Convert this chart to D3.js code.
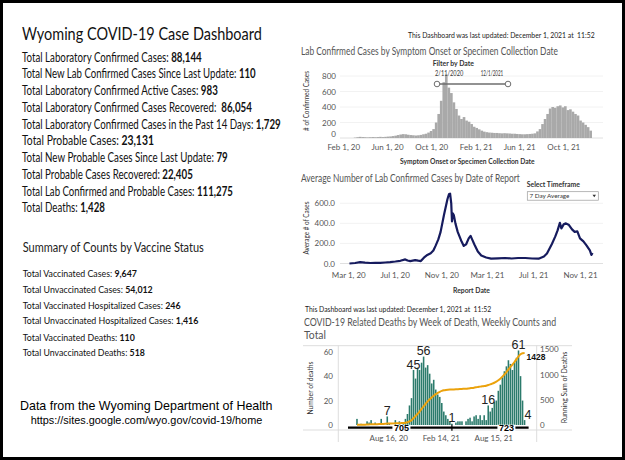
<!DOCTYPE html>
<html>
<head>
<meta charset="utf-8">
<script src="https://cdn.jsdelivr.net/npm/d3@7"></script>
<style>
  body { margin: 0; background: #fff; }
  svg { display: block; }
  text { font-family: Lato, "Open Sans", sans-serif; white-space: pre; }
</style>
</head>
<body>
<svg width="625" height="460"></svg>
<script>
// ---- data ----
const summaryLabels = [
  'Total Laboratory Confirmed Cases: ',
  'Total New Lab Confirmed Cases Since Last Update: ',
  'Total Laboratory Confirmed Active Cases: ',
  'Total Laboratory Confirmed Cases Recovered:  ',
  'Total Laboratory Confirmed Cases in the Past 14 Days: ',
  'Total Probable Cases: ',
  'Total New Probable Cases Since Last Update: ',
  'Total Probable Cases Recovered: ',
  'Total Lab Confirmed and Probable Cases: ',
  'Total Deaths: '
];
const summaryValues = [88144, 110, 983, 86054, 1729, 23131, 79, 22405, 111275, 1428];

const vaccineLabels = [
  'Total Vaccinated Cases: ',
  'Total Unvaccinated Cases: ',
  'Total Vaccinated Hospitalized Cases: ',
  'Total Unvaccinated Hospitalized Cases: ',
  'Total Vaccinated Deaths: ',
  'Total Unvaccinated Deaths: '
];
const vaccineValues = [9647, 54012, 246, 1416, 110, 518];

// lab confirmed cases by symptom onset, one value per week from 2020-03-01
const onsetStart = '2020-03-01';
const onsetCounts = [
  5, 10, 15, 12, 10, 8, 10, 12, 10, 12, 15, 12, 15,
  18, 20, 25, 30, 38, 45, 50, 48,
  42, 38, 35, 32, 35, 40, 48, 55,
  70, 90, 115,
  200, 310, 480, 720, 820, 650, 580, 460, 375, 290, 245, 270, 225, 210, 180, 145, 130, 112, 95, 82,
  75, 70, 68, 65, 65, 62, 60, 62, 60,
  58, 55, 55, 52, 50, 48, 48, 50, 52, 55, 60,
  85, 115, 180, 245, 310, 380, 400, 390, 410, 420, 395, 410, 360, 370, 340, 310, 290, 225, 200, 170, 140, 95
];
const onsetTicks = ['2020-02-01', '2020-06-01', '2020-10-01', '2021-02-01', '2021-06-01', '2021-10-01'];
const onsetYTicks = [0, 200, 400, 600, 800];

// 7 day average by report date
const avgDates = ['2020-03-04','2020-03-19','2020-04-01','2020-04-14','2020-04-28','2020-05-11','2020-05-24','2020-06-06','2020-06-19','2020-07-03',
  '2020-07-16','2020-07-29','2020-08-04','2020-08-11','2020-08-24','2020-09-01','2020-09-08','2020-09-16','2020-09-25','2020-10-04',
  '2020-10-11','2020-10-17','2020-10-24','2020-10-30','2020-11-08','2020-11-17','2020-11-21','2020-11-24','2020-11-27','2020-11-29',
  '2020-12-01','2020-12-04','2020-12-08','2020-12-14','2020-12-23','2020-12-30','2021-01-05','2021-01-12','2021-01-17','2021-01-21',
  '2021-01-27','2021-02-05','2021-02-14','2021-02-27','2021-03-12','2021-03-30','2021-04-17','2021-05-05','2021-05-22','2021-06-10',
  '2021-06-28','2021-07-15','2021-07-29','2021-08-06','2021-08-19','2021-08-28','2021-09-03','2021-09-09','2021-09-13','2021-09-19',
  '2021-09-25','2021-10-03','2021-10-11','2021-10-18','2021-10-25','2021-11-01','2021-11-10','2021-11-18','2021-11-27','2021-12-01',
  '2021-12-04'];
const avgValues = [0, 5, 14, 8, 5, 6, 7, 10, 14, 20,
  27, 41, 30, 24, 34, 28, 24, 58, 85, 103,
  130, 178, 240, 315, 485, 640, 690, 697, 600, 420,
  500, 480, 400, 315, 230, 175, 190, 250, 275, 240,
  190, 120, 80, 60, 48, 52, 55, 50, 55, 55,
  50, 48, 70, 100, 195, 270, 330, 405, 350, 390,
  400, 383, 340, 315, 320, 250, 220, 180, 130, 85,
  105];
const avgTicks = ['2020-03-01', '2020-07-01', '2020-11-01', '2021-03-01', '2021-07-01', '2021-11-01'];
const avgYTicks = [0, 200, 400, 600];

// deaths per week of death, weeks from 2020-04-26
const deathStart = '2020-04-26';
const deathCounts = [
  5, 0, 1, 0, 0, 3, 2, 4, 0, 2, 0, 0, 5, 0, 0, 7, 1, 0, 0, 4, 0, 3, 0, 2,
  5, 9, 16, 22, 45, 38, 47, 45, 51, 56, 47, 49, 42, 34, 37, 29, 25, 23, 18, 11, 8, 5, 3, 1,
  0, 2, 3, 3, 3, 0, 3, 5, 6, 3, 7, 8, 5, 8, 4, 8, 4, 16, 11, 14,
  19, 20, 28, 33, 39, 44, 48, 53, 50, 45, 51, 55, 61, 40, 20, 4
];
const deathLabelWeeks = [15, 28, 33, 47, 65, 80, 83];
const deathSplitWeek = 47; // last week counted in the first total
const deathTicks = ['2020-08-16', '2021-02-14', '2021-08-15'];
const deathYTicks = [0, 20, 40, 60];
const runningYTicks = [0, 500, 1000, 1500];

// ---- drawing ----
const svg = d3.select('svg');
const parse = d3.timeParse('%Y-%m-%d');
const fmt = d3.format(',');

// squeeze a text to the width it has in the picture
function fitText(parent, x, y, width, parts, size, fill, family) {
  const t = parent.append('text')
    .attr('font-size', size)
    .attr('fill', fill || '#111');
  if (family) t.style('font-family', family);
  parts.forEach(p => t.append('tspan').text(p.text).attr('font-weight', p.bold ? 700 : 400));
  const w = t.node().getComputedTextLength();
  t.attr('transform', `translate(${x},${y}) scale(${width / w},1)`);
  return t;
}

function vLabel(x, y, len, str, size) {
  const t = svg.append('text')
    .attr('font-size', size).attr('fill', '#333')
    .attr('text-anchor', 'middle').attr('dy', '0.35em')
    .text(str);
  const w = t.node().getComputedTextLength();
  t.attr('transform', `translate(${x},${y}) rotate(-90) scale(${len / w},1)`);
}

function styleAxis(g, size) {
  g.select('.domain').remove();
  g.selectAll('text').attr('font-size', size).attr('fill', '#555')
    .style('font-family', 'Lato, "Open Sans", sans-serif');
}

// outer frame
svg.append('rect').attr('x', 1.5).attr('y', 1.5).attr('width', 622).attr('height', 457)
  .attr('fill', '#fff').attr('stroke', '#000').attr('stroke-width', 3);

// ---- left panel ----
fitText(svg, 22, 40, 240, [{ text: 'Wyoming COVID-19 Case Dashboard' }], 16.5, '#111');

const lineWidths = [180, 234, 196, 230, 259, 132, 206, 171, 211, 83];
summaryLabels.forEach((label, i) => {
  fitText(svg, 22, 61.7 + i * 16.73, lineWidths[i],
    [{ text: label }, { text: fmt(summaryValues[i]), bold: true }], 12.5, '#111');
});

fitText(svg, 22.7, 251.7, 181.3, [{ text: 'Summary of Counts by Vaccine Status' }], 13, '#222');

const vaccineWidths = [114.3, 130.3, 158, 175.7, 112.3, 122.3];
const vaccineBase = [276.7, 292.7, 308.7, 324.3, 340.5, 356];
vaccineLabels.forEach((label, i) => {
  fitText(svg, 22.7, vaccineBase[i], vaccineWidths[i],
    [{ text: label }, { text: fmt(vaccineValues[i]), bold: true }], 10, '#111');
});

fitText(svg, 20, 410, 252.7, [{ text: 'Data from the Wyoming Department of Health' }], 13, '#000', '"Liberation Sans", Arial, sans-serif');
fitText(svg, 30.7, 424.3, 231.7, [{ text: 'https://sites.google.com/wyo.gov/covid-19/home' }], 10.5, '#000', '"Liberation Sans", Arial, sans-serif');

// ---- chart 1: lab confirmed cases by symptom onset ----
fitText(svg, 408, 38, 187, [{ text: 'This Dashboard was last updated: December 1, 2021 at  11:52' }], 7.5, '#222');
fitText(svg, 301, 54.5, 257, [{ text: 'Lab Confirmed Cases by Symptom Onset or Specimen Collection Date' }], 10.5, '#555');

const x1 = d3.scaleTime().domain([parse('2020-02-01'), parse('2021-10-01')]).range([343.3, 563.3]);
const y1 = d3.scaleLinear().domain([0, 800]).range([138, 76]);

svg.append('g').selectAll('line').data(onsetYTicks).join('line')
  .attr('x1', 340).attr('x2', 603)
  .attr('y1', d => y1(d)).attr('y2', d => y1(d))
  .attr('stroke', d => d === 0 ? '#d8d8d8' : '#efefef').attr('stroke-width', 0.8);

const onset0 = parse(onsetStart);
svg.append('g').selectAll('rect').data(onsetCounts).join('rect')
  .attr('x', (d, k) => x1(d3.timeWeek.offset(onset0, k)))
  .attr('width', (d, k) => x1(d3.timeWeek.offset(onset0, k + 1)) - x1(d3.timeWeek.offset(onset0, k)) + 0.1)
  .attr('y', d => y1(d))
  .attr('height', d => y1(0) - y1(d))
  .attr('fill', '#a9a9a9');

const ax1 = svg.append('g').attr('transform', 'translate(340,0)')
  .call(d3.axisLeft(y1).tickValues(onsetYTicks).tickSize(0).tickPadding(4));
styleAxis(ax1, 8);
// the zero label sits a little above the baseline, clear of the date labels
ax1.selectAll('.tick text').filter(d => d === 0).attr('dy', '-0.25em');
const bx1 = svg.append('g').attr('transform', `translate(0,${y1(0) + 1.5})`)
  .call(d3.axisBottom(x1).tickValues(onsetTicks.map(parse)).tickFormat(d3.timeFormat('%b %-d, %y')).tickSize(0).tickPadding(5));
styleAxis(bx1, 8);
vLabel(306, 101, 60, '# of Confirmed Cases', 7.5);
fitText(svg, 400, 164, 135, [{ text: 'Symptom Onset or Specimen Collection Date', bold: true }], 7.5, '#333');

// date filter slider
fitText(svg, 432.7, 65.5, 41.3, [{ text: 'Filter by Date', bold: true }], 7.5, '#333');
fitText(svg, 435, 76, 28.3, [{ text: '2/11/2020' }], 7.5, '#333');
fitText(svg, 480.7, 76, 22.6, [{ text: '12/1/2021' }], 7.5, '#333');
svg.append('line').attr('x1', 437).attr('x2', 508).attr('y1', 84).attr('y2', 84)
  .attr('stroke', '#6e6e6e').attr('stroke-width', 1.6);
svg.selectAll('circle.handle').data([437, 508]).join('circle')
  .attr('class', 'handle').attr('cx', d => d).attr('cy', 84).attr('r', 2.8)
  .attr('fill', '#fff').attr('stroke', '#6e6e6e').attr('stroke-width', 1);

// ---- chart 2: average number by date of report ----
fitText(svg, 301, 182.3, 219, [{ text: 'Average Number of Lab Confirmed Cases by Date of Report' }], 10.5, '#555');
fitText(svg, 526.7, 187, 53.3, [{ text: 'Select Timeframe', bold: true }], 7.5, '#333');
svg.append('rect').attr('x', 527.3).attr('y', 191.7).attr('width', 71).attr('height', 8.5)
  .attr('fill', '#fff').attr('stroke', '#9a9a9a').attr('stroke-width', 0.7);
fitText(svg, 529.5, 198.3, 40, [{ text: '7 Day Average' }], 6.5, '#333');
svg.append('path').attr('d', 'M592.5,194.8 L596,194.8 L594.25,197.2 Z').attr('fill', '#333');

const x2 = d3.scaleTime().domain([parse('2020-03-01'), parse('2021-11-01')]).range([348.3, 580]);
const y2 = d3.scaleLinear().domain([0, 600]).range([263.5, 203.3]);

svg.append('g').selectAll('line').data(avgYTicks).join('line')
  .attr('x1', 340).attr('x2', 603)
  .attr('y1', d => y2(d)).attr('y2', d => y2(d))
  .attr('stroke', d => d === 0 ? '#d8d8d8' : '#efefef').attr('stroke-width', 0.8);

const avgLine = d3.line()
  .x((d, i) => x2(parse(avgDates[i])))
  .y(d => y2(d));
svg.append('path').datum(avgValues)
  .attr('d', avgLine)
  .attr('fill', 'none')
  .attr('stroke', '#161b5e')
  .attr('stroke-width', 2.2)
  .attr('stroke-linejoin', 'round');

const ax2 = svg.append('g').attr('transform', 'translate(339,0)')
  .call(d3.axisLeft(y2).tickValues(avgYTicks).tickFormat(d3.format('.1f')).tickSize(0).tickPadding(4));
styleAxis(ax2, 8);
const bx2 = svg.append('g').attr('transform', `translate(0,${y2(0) + 4})`)
  .call(d3.axisBottom(x2).tickValues(avgTicks.map(parse)).tickFormat(d3.timeFormat('%b %-d, %y')).tickSize(0).tickPadding(5));
styleAxis(bx2, 8);
vLabel(306.7, 228, 53, 'Average # of Cases', 7.5);
fitText(svg, 453, 292.5, 37, [{ text: 'Report Date', bold: true }], 7.5, '#333');

// ---- chart 3: deaths by week ----
fitText(svg, 305, 312, 186.7, [{ text: 'This Dashboard was last updated: December 1, 2021 at  11:52' }], 7.5, '#222');
fitText(svg, 304, 326, 252.7, [{ text: 'COVID-19 Related Deaths by Week of Death, Weekly Counts and' }], 10.5, '#555');
fitText(svg, 304, 339, 22, [{ text: 'Total' }], 10.5, '#555');

const x3 = d3.scaleTime().domain([parse('2020-08-16'), parse('2021-08-15')]).range([388.3, 493.3]);
const y3 = d3.scaleLinear().domain([0, 60]).range([425, 351.7]);
const y3r = d3.scaleLinear().domain([0, 1500]).range([425, 349.3]);

// frame lines
const frame = svg.append('g').attr('stroke', '#d9d9d9').attr('stroke-width', 0.9);
frame.append('line').attr('x1', 303).attr('x2', 572).attr('y1', 345.7).attr('y2', 345.7);
frame.append('line').attr('x1', 303).attr('x2', 572).attr('y1', 430).attr('y2', 430);
frame.append('line').attr('x1', 338.3).attr('x2', 338.3).attr('y1', 345.7).attr('y2', 442);
frame.append('line').attr('x1', 536.7).attr('x2', 536.7).attr('y1', 345.7).attr('y2', 442);

const death0 = parse(deathStart);
const wk = k => d3.timeWeek.offset(death0, k);
svg.append('g').selectAll('rect').data(deathCounts).join('rect')
  .attr('x', (d, k) => x3(wk(k)) + 0.2)
  .attr('width', (d, k) => x3(wk(k + 1)) - x3(wk(k)) - 0.45)
  .attr('y', d => y3(d))
  .attr('height', d => y3(0) - y3(d))
  .attr('fill', '#2c7b6c');

// running sum
const running = d3.cumsum(deathCounts);
const runLine = d3.line()
  .x((d, k) => (x3(wk(k)) + x3(wk(k + 1))) / 2)
  .y(d => y3r(d))
  .curve(d3.curveBasis);
svg.append('path').datum(Array.from(running))
  .attr('d', runLine)
  .attr('fill', 'none')
  .attr('stroke', '#eba20c')
  .attr('stroke-width', 2);

// value labels on chosen weeks
svg.append('g').selectAll('text').data(deathLabelWeeks).join('text')
  .attr('x', k => k === deathCounts.length - 1 ? x3(wk(k)) + 1 : (x3(wk(k)) + x3(wk(k + 1))) / 2)
  .attr('y', k => y3(deathCounts[k]) - 1.5)
  .attr('text-anchor', k => k === deathCounts.length - 1 ? 'start' : 'middle')
  .attr('font-size', 12.5)
  .attr('fill', '#222')
  .style('font-family', '"Liberation Sans", Arial, sans-serif')
  .text(k => deathCounts[k]);

const last = deathCounts.length - 1;
svg.append('text')
  .attr('x', x3(wk(last + 1)) + 1).attr('y', y3r(running[last]) + 7.5)
  .attr('font-size', 8.5).attr('font-weight', 700).attr('fill', '#111')
  .style('font-family', '"Liberation Sans", Arial, sans-serif')
  .text(running[last]);

// totals bracket under the bars
const firstTotal = d3.sum(deathCounts.slice(0, deathSplitWeek + 1));
const secondTotal = d3.sum(deathCounts.slice(deathSplitWeek + 1));
const splitX = (x3(wk(deathSplitWeek)) + x3(wk(deathSplitWeek + 1))) / 2;
const bracketY = 427.7;
svg.append('line').attr('x1', x3(wk(0)) - 8).attr('x2', x3(wk(last + 1)) + 3)
  .attr('y1', bracketY).attr('y2', bracketY).attr('stroke', '#000').attr('stroke-width', 2.2);
svg.append('line').attr('x1', splitX).attr('x2', splitX)
  .attr('y1', bracketY - 3).attr('y2', bracketY + 3).attr('stroke', '#000').attr('stroke-width', 1.2);
[[22, firstTotal], [74, secondTotal]].forEach(([k, v]) => {
  const cx = x3(wk(k)) + 1;
  svg.append('rect').attr('x', cx - 9).attr('y', bracketY - 3).attr('width', 18).attr('height', 7).attr('fill', '#fff');
  svg.append('text').attr('x', cx).attr('y', bracketY + 3.3)
    .attr('text-anchor', 'middle').attr('font-size', 9).attr('font-weight', 700).attr('fill', '#000')
    .style('font-family', '"Liberation Sans", Arial, sans-serif')
    .text(v);
});

const ax3 = svg.append('g').attr('transform', 'translate(338,0)')
  .call(d3.axisLeft(y3).tickValues(deathYTicks).tickSize(0).tickPadding(5));
styleAxis(ax3, 8);
const ax3r = svg.append('g').attr('transform', 'translate(537,0)')
  .call(d3.axisRight(y3r).tickValues(runningYTicks).tickFormat(d3.format('d')).tickSize(0).tickPadding(3));
styleAxis(ax3r, 8);
const bx3 = svg.append('g').attr('transform', 'translate(0,430)')
  .call(d3.axisBottom(x3).tickValues(deathTicks.map(parse)).tickFormat(d3.timeFormat('%b %d, %y')).tickSize(0).tickPadding(5));
styleAxis(bx3, 8);
vLabel(310.7, 388, 53, 'Number of deaths', 7.5);
vLabel(564, 387.5, 71.7, 'Running Sum of Deaths', 7.5);
</script>
</body>
</html>
